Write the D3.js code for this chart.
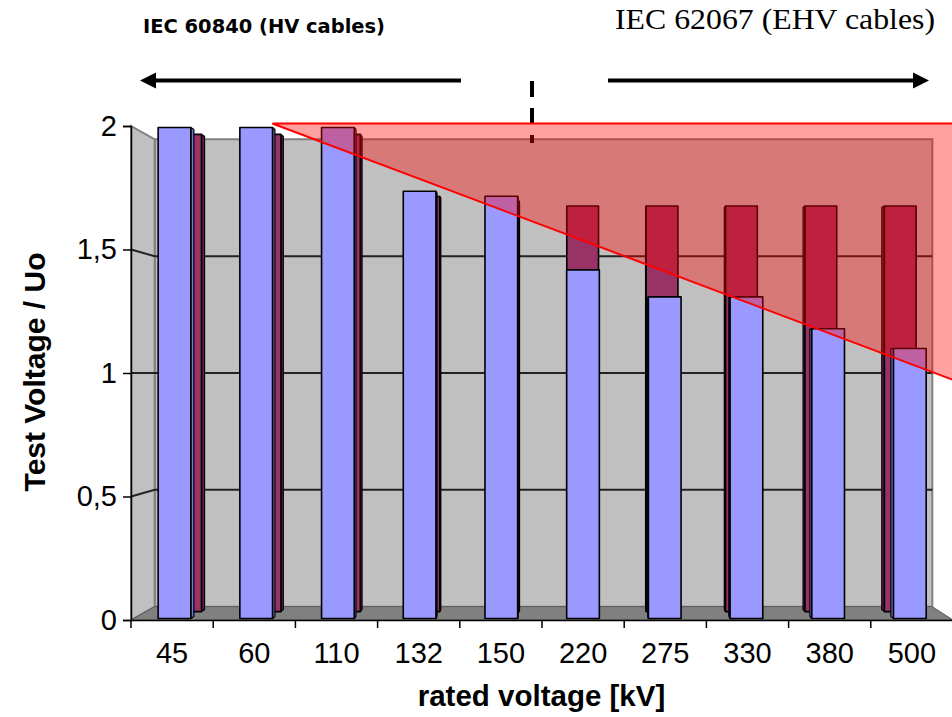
<!DOCTYPE html>
<html><head><meta charset="utf-8">
<script src="https://cdn.jsdelivr.net/npm/d3@7"></script>
<style>body{margin:0;background:#fff}svg{display:block}</style>
</head><body><svg id="c" width="952" height="717"></svg>
<script>
// ---- data ----
const categories = ["45","60","110","132","150","220","275","330","380","500"];
const frontValues = [2, 2, 2, 1.74, 1.72, 1.42, 1.31, 1.31, 1.18, 1.10]; // blue series (front row)
const backValues  = [2, 2, 2, 1.74, 1.72, 1.70, 1.70, 1.70, 1.70, 1.70]; // maroon series (back row)
const yTicks = [0, 0.5, 1, 1.5, 2];
const yTickLabels = ["0", "0,5", "1", "1,5", "2"];
const titleLeft = "IEC 60840 (HV cables)";
const titleRight = "IEC 62067 (EHV cables)";
const xTitle = "rated voltage [kV]";
const yTitle = "Test Voltage / Uo";

// ---- setup ----
const svg = d3.select("#c");
const x = d3.scaleBand().domain(categories).range([131, 953]).paddingInner(0.6).paddingOuter(0.3);
const y = d3.scaleLinear().domain([0, 2]).range([620, 126]);
const xIdx = d3.scaleLinear().domain([0, categories.length]).range(x.range());
const VP = [570, 373];
const S = {frontA: 0.994, frontB: 0.986, backA: 0.966, backB: 0.958, wall: 0.946};
const P = (px, py, s) => [VP[0] + (px - VP[0]) * s, VP[1] + (py - VP[1]) * s];
const line = d3.line();
const [X0, X1] = x.range();
const FONT = "'Liberation Sans', Arial, sans-serif";

const gWalls = svg.append("g");
// back wall
gWalls.append("path")
  .attr("d", line([P(X0, y(2), S.wall), P(X1, y(2), S.wall), P(X1, y(0), S.wall), P(X0, y(0), S.wall)]) + "Z")
  .attr("fill", "#c0c0c0").attr("stroke", "#808080").attr("stroke-width", 2);
// left side wall
gWalls.append("path")
  .attr("d", line([[X0, y(2)], P(X0, y(2), S.wall), P(X0, y(0), S.wall), [X0, y(0)]]) + "Z")
  .attr("fill", "#c0c0c0").attr("stroke", "#808080").attr("stroke-width", 2);
// floor
gWalls.append("path")
  .attr("d", line([[X0, y(0)], [X1, y(0)], P(X1, y(0), S.wall), P(X0, y(0), S.wall)]) + "Z")
  .attr("fill", "#808080").attr("stroke", "#5a5a5a").attr("stroke-width", 1);
// gridlines
yTicks.filter(v => v > 0 && v < 2).forEach(v => {
  gWalls.append("path")
    .attr("d", line([[X0, y(v)], P(X0, y(v), S.wall), P(X1, y(v), S.wall)]))
    .attr("fill", "none").attr("stroke", "#222").attr("stroke-width", 2);
});

// ---- bars ----
function drawBar(g, cat, v, sA, sB, fill, side) {
  const bx0 = x(cat), bx1 = x(cat) + x.bandwidth(), yt = y(v), yb = y(0);
  const sx = bx1 < VP[0] ? bx1 : (bx0 > VP[0] ? bx0 : null);
  if (sx !== null) {
    g.append("path")
      .attr("d", line([P(sx, yt, sA), P(sx, yt, sB), P(sx, yb, sB), P(sx, yb, sA)]) + "Z")
      .attr("fill", side).attr("stroke", "#000").attr("stroke-width", 1.2).attr("stroke-linejoin", "round");
  }
  g.append("path")
    .attr("d", line([P(bx0, yt, sA), P(bx1, yt, sA), P(bx1, yb, sA), P(bx0, yb, sA)]) + "Z")
    .attr("fill", fill).attr("stroke", "#000").attr("stroke-width", 1.6).attr("stroke-linejoin", "round");
}
const gBack = svg.append("g");
categories.forEach((c, i) => drawBar(gBack, c, backValues[i], S.backA, S.backB, "#993366", "#6a1f47"));
const gFront = svg.append("g");
categories.forEach((c, i) => drawBar(gFront, c, frontValues[i], S.frontA, S.frontB, "#9999ff", "#7373d9"));

// ---- axes ----
const yAxis = svg.append("g").attr("transform", `translate(${X0},0)`)
  .call(d3.axisLeft(y).tickValues(yTicks).tickFormat((d, i) => yTickLabels[i]).tickSize(8).tickPadding(6));
yAxis.selectAll("text").attr("font-family", FONT).attr("font-size", 29).attr("fill", "#000");
yAxis.selectAll("line,path").attr("stroke", "#000").attr("stroke-width", 1.5);

const xAxis = svg.append("g").attr("transform", `translate(0,${y(0)})`)
  .call(d3.axisBottom(x).tickSize(0).tickPadding(22));
xAxis.selectAll("text").attr("font-family", FONT).attr("font-size", 29).attr("fill", "#000");
xAxis.select(".domain").attr("stroke", "#000").attr("stroke-width", 1.5);
d3.range(categories.length + 1).forEach(i => {
  svg.append("line").attr("x1", xIdx(i)).attr("x2", xIdx(i)).attr("y1", y(0)).attr("y2", y(0) + 8)
    .attr("stroke", "#000").attr("stroke-width", 1.5);
});

// axis titles
svg.append("text").attr("x", 541.5).attr("y", 706).attr("text-anchor", "middle")
  .attr("font-family", FONT).attr("font-weight", "bold").attr("font-size", 29.5)
  .text(xTitle);
svg.append("text").attr("transform", "translate(45,372) rotate(-90)").attr("text-anchor", "middle")
  .attr("font-family", FONT).attr("font-weight", "bold").attr("font-size", 30)
  .text(yTitle);

// ---- annotations ----
svg.append("text").attr("x", 143).attr("y", 33)
  .attr("font-family", "'DejaVu Sans', Verdana, sans-serif").attr("font-weight", "bold").attr("font-size", 20)
  .attr("textLength", 242).attr("lengthAdjust", "spacingAndGlyphs").text(titleLeft);
svg.append("text").attr("x", 615).attr("y", 29)
  .attr("font-family", "'Liberation Serif', 'Times New Roman', serif").attr("font-size", 30)
  .attr("textLength", 320).attr("lengthAdjust", "spacingAndGlyphs").text(titleRight);

const arrowY = 80.5;
// left arrow
svg.append("line").attr("x1", 461).attr("x2", 150).attr("y1", arrowY).attr("y2", arrowY).attr("stroke", "#000").attr("stroke-width", 4);
svg.append("path").attr("d", line([[140, arrowY], [156, arrowY - 8], [156, arrowY + 8]]) + "Z").attr("fill", "#000");
// right arrow
svg.append("line").attr("x1", 608).attr("x2", 918).attr("y1", arrowY).attr("y2", arrowY).attr("stroke", "#000").attr("stroke-width", 4);
svg.append("path").attr("d", line([[929, arrowY], [913, arrowY - 8], [913, arrowY + 8]]) + "Z").attr("fill", "#000");
// dashed divider
svg.append("line").attr("x1", 532).attr("x2", 532).attr("y1", 81).attr("y2", 143)
  .attr("stroke", "#000").attr("stroke-width", 4).attr("stroke-dasharray", "16,11");

// red triangle overlay
const triStart = [xIdx(1.72), y(2.01)];
const triEnd = [xIdx(10), y(0.972)];
const slope = (triEnd[1] - triStart[1]) / (triEnd[0] - triStart[0]);
const xr = 970;
svg.append("path")
  .attr("d", line([triStart, [xr, triStart[1]], [xr, triStart[1] + slope * (xr - triStart[0])]]) + "Z")
  .attr("fill", "rgba(255,0,0,0.37)").attr("stroke", "#ff0000").attr("stroke-width", 2);
</script></body></html>
